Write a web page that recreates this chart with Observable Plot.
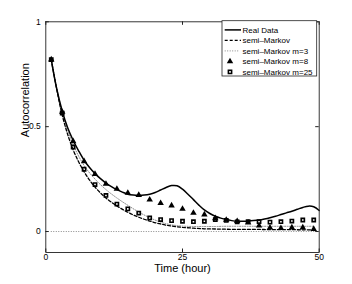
<!DOCTYPE html>
<html>
<head>
<meta charset="utf-8">
<script src="https://cdn.jsdelivr.net/npm/d3@7"></script>
<script src="https://cdn.jsdelivr.net/npm/@observablehq/plot@0.6"></script>
<style>
  html, body { margin: 0; padding: 0; background: #fff; }
  #chart svg { display: block; }
</style>
</head>
<body>
<div id="chart"></div>
<script>
// ---- data ----
const realHours = d3.range(1, 51);
const realValues = [0.82, 0.68, 0.575, 0.495, 0.435, 0.385, 0.34, 0.305, 0.276, 0.252,
  0.231, 0.214, 0.2, 0.188, 0.178, 0.174, 0.173, 0.174, 0.178, 0.186,
  0.198, 0.21, 0.219, 0.218, 0.202, 0.178, 0.152, 0.126, 0.103, 0.086,
  0.073, 0.064, 0.057, 0.052, 0.049, 0.049, 0.05, 0.052, 0.055, 0.06,
  0.066, 0.073, 0.081, 0.089, 0.097, 0.106, 0.115, 0.121, 0.118, 0.1];

const modelHours = [1,3,5,7,9,11,13,15,17,19,21,23,25,27,29,31,33,35,37,39,41,43,45,47,49];
const semiMarkov = [0.82, 0.555, 0.39, 0.285, 0.212, 0.16, 0.122, 0.092, 0.068, 0.05,
  0.036, 0.026, 0.02, 0.016, 0.013, 0.012, 0.011, 0.01, 0.01, 0.01,
  0.009, 0.009, 0.009, 0.008, 0.008];
const semiMarkovM3 = [0.82, 0.57, 0.415, 0.315, 0.25, 0.2, 0.16, 0.125, 0.093, 0.066,
  0.045, 0.032, 0.026, 0.024, 0.024, 0.024, 0.025, 0.025, 0.025, 0.025,
  0.025, 0.025, 0.025, 0.025, 0.025];
const semiMarkovM8 = [0.82, 0.57, 0.43, 0.335, 0.274, 0.227, 0.203, 0.184, 0.174, 0.152,
  0.135, 0.124, 0.108, 0.089, 0.081, 0.063, 0.055, 0.049, 0.042, 0.028,
  0.018, 0.016, 0.019, 0.019, 0.012];
const semiMarkovM25 = [0.82, 0.565, 0.403, 0.297, 0.224, 0.172, 0.131, 0.108, 0.088, 0.065,
  0.057, 0.052, 0.049, 0.047, 0.049, 0.057, 0.053, 0.046, 0.047, 0.047,
  0.045, 0.047, 0.05, 0.055, 0.055];

const xTicks = [0, 25, 50];
const yTicks = [0, 0.5, 1];
const xDomain = [0, 50];
const yDomain = [-0.1, 1];
const legendLabels = ["Real Data", "semi–Markov", "semi–Markov m=3", "semi–Markov m=8", "semi–Markov m=25"];

const real = realHours.map((h, i) => ({x: h, y: realValues[i]}));
const model = (vals) => modelHours.map((h, i) => ({x: h, y: vals[i]}));

const font = "'Liberation Sans', Arial, Helvetica, sans-serif";
const axisColor = "#222";

const chart = Plot.plot({
  width: 352,
  height: 284,
  marginLeft: 45.3,
  marginRight: 33.3,
  marginTop: 21.3,
  marginBottom: 32,
  style: {fontFamily: font, background: "#fff", color: "#000"},
  x: {domain: xDomain},
  y: {domain: yDomain},
  marks: [
    Plot.ruleY([0], {x1: 1, x2: 50, stroke: "#888", strokeWidth: 1, strokeDasharray: "1,1.5"}),
    Plot.line(model(semiMarkovM3), {x: "x", y: "y", stroke: "#888", strokeWidth: 1, strokeDasharray: "1,1.5", curve: "catmull-rom"}),
    Plot.line(model(semiMarkov), {x: "x", y: "y", stroke: "#000", strokeWidth: 1.3, strokeDasharray: "3,2", curve: "catmull-rom"}),
    Plot.line(real, {x: "x", y: "y", stroke: "#000", strokeWidth: 1.5, curve: "catmull-rom"}),
    Plot.dot(model(semiMarkovM8), {x: "x", y: "y", symbol: "triangle", r: 2.4, fill: "#000", stroke: "none"}),
    Plot.dot(model(semiMarkovM25), {x: "x", y: "y", symbol: "square", r: 1.8, fill: "none", stroke: "#000", strokeWidth: 1.6}),
    Plot.frame({stroke: axisColor, strokeWidth: 0.9}),
    // inward ticks
    Plot.ruleX(xTicks, {x: d => d, y1: yDomain[0], y2: yDomain[0], insetTop: -3.5, stroke: axisColor}),
    Plot.ruleX(xTicks, {x: d => d, y1: yDomain[1], y2: yDomain[1], insetBottom: -3.5, stroke: axisColor}),
    Plot.ruleY(yTicks, {y: d => d, x1: xDomain[0], x2: xDomain[0], insetRight: -3.5, stroke: axisColor}),
    Plot.ruleY(yTicks, {y: d => d, x1: xDomain[1], x2: xDomain[1], insetLeft: -3.5, stroke: axisColor}),
    Plot.axisX({ticks: xTicks, tickSize: 0, tickPadding: 1.5, fontSize: 8.5, label: null, tickFormat: d => String(d)}),
    Plot.axisY({ticks: yTicks, tickSize: 0, tickPadding: 5, fontSize: 8.5, label: null, tickFormat: d => String(d)}),
    Plot.text(["Time (hour)"], {frameAnchor: "bottom", dy: 19.5, fontSize: 11, fill: "#000"}),
    Plot.text(["Autocorrelation"], {frameAnchor: "left", dx: -20.5, rotate: -90, fontSize: 11, fill: "#000"})
  ]
});

// ---- legend (inside the axes, top-right) ----
const svg = d3.select(chart);
const lg = svg.append("g").attr("font-family", font).attr("font-size", 8).attr("text-anchor", "start");
const bx = 222, by = 20.7, bw = 94.7, bh = 55.3;
lg.append("rect").attr("x", bx).attr("y", by).attr("width", bw).attr("height", bh)
  .attr("fill", "#fff").attr("stroke", axisColor).attr("stroke-width", 0.8);
const rowY = i => by + 9.2 + 10.5 * i;
const sx1 = 224.7, sx2 = 241, tx = 242.5, mx = 230;
// row 0: solid
lg.append("line").attr("x1", sx1).attr("x2", sx2).attr("y1", rowY(0)).attr("y2", rowY(0))
  .attr("stroke", "#000").attr("stroke-width", 1.5);
// row 1: dashed
lg.append("line").attr("x1", sx1).attr("x2", sx2).attr("y1", rowY(1)).attr("y2", rowY(1))
  .attr("stroke", "#000").attr("stroke-width", 1.3).attr("stroke-dasharray", "3,2");
// row 2: dotted
lg.append("line").attr("x1", sx1).attr("x2", 239).attr("y1", rowY(2)).attr("y2", rowY(2))
  .attr("stroke", "#888").attr("stroke-width", 1).attr("stroke-dasharray", "1,1.5");
// row 3: triangle
lg.append("path").attr("d", d3.symbol(d3.symbolTriangle, Math.PI * 2.4 * 2.4)())
  .attr("transform", `translate(${mx},${rowY(3)})`).attr("fill", "#000");
// row 4: square
lg.append("path").attr("d", d3.symbol(d3.symbolSquare, Math.PI * 1.8 * 1.8)())
  .attr("transform", `translate(${mx},${rowY(4)})`).attr("fill", "none")
  .attr("stroke", "#000").attr("stroke-width", 1.6);
legendLabels.forEach((t, i) => {
  lg.append("text").attr("x", tx).attr("y", rowY(i)).attr("dy", "0.35em")
    .attr("text-anchor", "start").attr("fill", "#000").text(t);
});

document.getElementById("chart").appendChild(chart);
</script>
</body>
</html>
